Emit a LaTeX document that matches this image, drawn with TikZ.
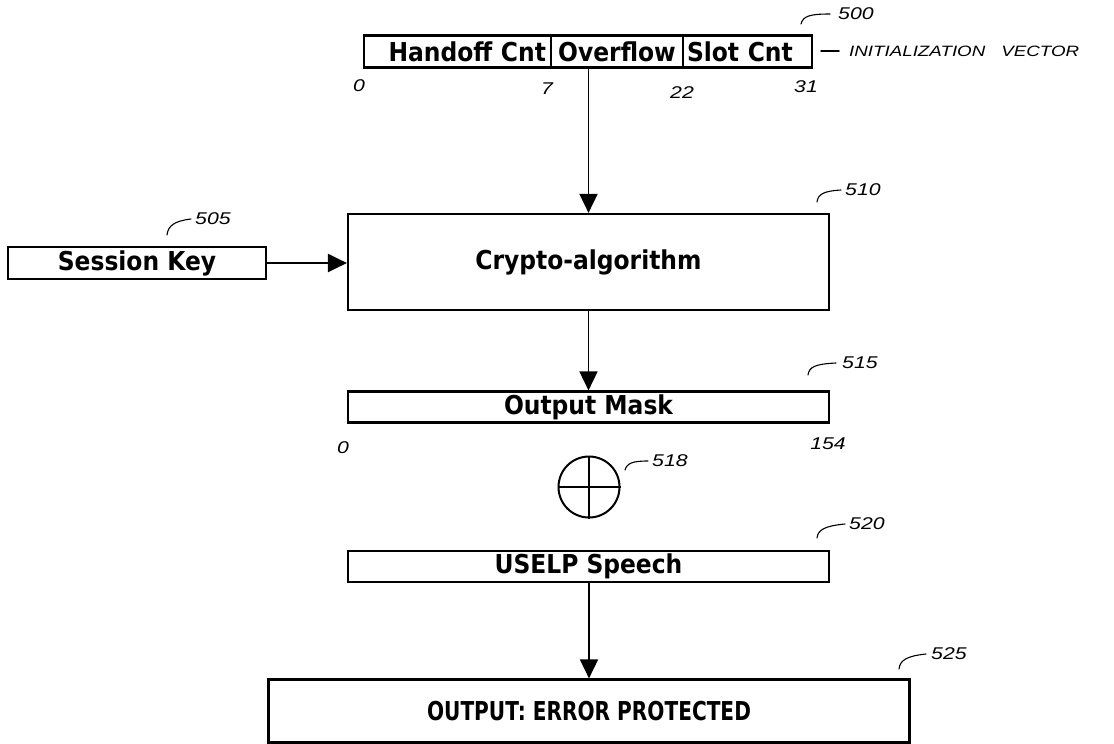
\documentclass[tikz,border=0pt]{standalone}
\usepackage{fontspec}
\setmainfont{DejaVu Sans Condensed}
\newfontfamily\handfont{Liberation Sans}[FakeStretch=1.25]
\usetikzlibrary{arrows.meta,calc}
\begin{document}
\begin{tikzpicture}[x=1pt,y=-1pt,
  box/.style={draw,line width=2.2pt,inner sep=0pt,font=\fontsize{26}{26}\selectfont\bfseries},
  arr/.style={line width=1.8pt,-{Triangle[length=19pt,width=18pt]}},
  hand/.style={font=\handfont\itshape\fontsize{17}{17}\selectfont,inner sep=0pt},
  hook/.style={line width=1.1pt,line cap=round}]
\useasboundingbox[fill=white] (0,0) rectangle (1114,744);

% initialization vector
\node[box,minimum width=187pt,minimum height=32pt,text width=177pt,align=right,inner xsep=5pt] (hc) at (457.5,51.5) {Handoff Cnt};
\node[box,minimum width=132pt,minimum height=32pt] (ov) at (617,51.5) {Overflow};
\node[box,minimum width=129pt,minimum height=32pt,text width=121pt,align=left,inner xsep=4pt] (sc) at (747.5,51.5) {Slot Cnt};
\node[hand] (b0) at (359,86) {0};
\node[hand] (b7) at (547,89) {7};
\node[hand] (b22) at (682,93) {22};
\node[hand] (b31) at (806,87) {31};

% session key
\node[box,minimum width=258pt,minimum height=32pt] (sk) at (137,263) {Session Key};

% crypto
\node[box,minimum width=481pt,minimum height=96pt] (crypto) at (588.5,262) {Crypto-algorithm};

% output mask
\node[box,minimum width=481pt,minimum height=31pt] (mask) at (588.5,407) {Output Mask};
\node[hand] (m0) at (343,448) {0};
\node[hand] (m154) at (828,444) {154};

% xor
\node[draw,circle,line width=2pt,minimum size=61pt,inner sep=0pt] (xor) at (589,487) {};
\draw[line width=1.6pt] (xor.north) -- (xor.south);
\draw[line width=2pt] (xor.west) -- (xor.east);

% uselp
\node[box,minimum width=481pt,minimum height=31pt] (uselp) at (588.5,566.5) {USELP Speech};

% output
\node[box,minimum width=641pt,minimum height=63pt] (out) at (589,711) {\scalebox{0.86}[1]{OUTPUT: ERROR PROTECTED}};

% connectors
\draw[arr] (ov.south -| crypto.north) -- (crypto.north);
\draw[arr,line width=2.6pt] (sk.east) -- (sk.east -| crypto.west);
\draw[arr] (crypto.south) -- (mask.north);
\draw[arr] (uselp.south -| out.north) -- (out.north);

% reference labels
\node[hand,anchor=west] (r500) at (838,14) {500};
\draw[hook] (801,24) .. controls (803,16) and (810,14) .. (r500.west -| 830,0);
\node[hand,anchor=west,font=\handfont\itshape\fontsize{15}{15}\selectfont] (ivl) at (849,51) {INITIALIZATION\hspace{16pt}VECTOR};
\coordinate (ivd) at (821,51);
\draw[hook,line width=1.5pt] (ivd) -- ($(ivl.west)+(-10,0)$);
\node[hand,anchor=west] (r510) at (845,190) {510};
\draw[hook] (817,202) .. controls (818,194) and (824,191) .. ($(r510.west)+(-4,0)$);
\node[hand,anchor=west] (r505) at (195,219) {505};
\draw[hook] (167,235) .. controls (168,226) and (174,221) .. ($(r505.west)+(-4,0)$);
\node[hand,anchor=west] (r515) at (842,363) {515};
\draw[hook] (808,375) .. controls (809,367) and (815,364) .. ($(r515.west)+(-6,0)$);
\node[hand,anchor=west] (r518) at (652,461) {518};
\draw[hook] (625,470) .. controls (627,463) and (633,461) .. ($(r518.west)+(-4,0)$);
\node[hand,anchor=west] (r520) at (849,524) {520};
\draw[hook] (817,538) .. controls (818,530) and (824,526) .. ($(r520.west)+(-4,0)$);
\node[hand,anchor=west] (r525) at (931,654) {525};
\draw[hook] (899,669) .. controls (900,660) and (907,656) .. ($(r525.west)+(-5,0)$);
\end{tikzpicture}
\end{document}
